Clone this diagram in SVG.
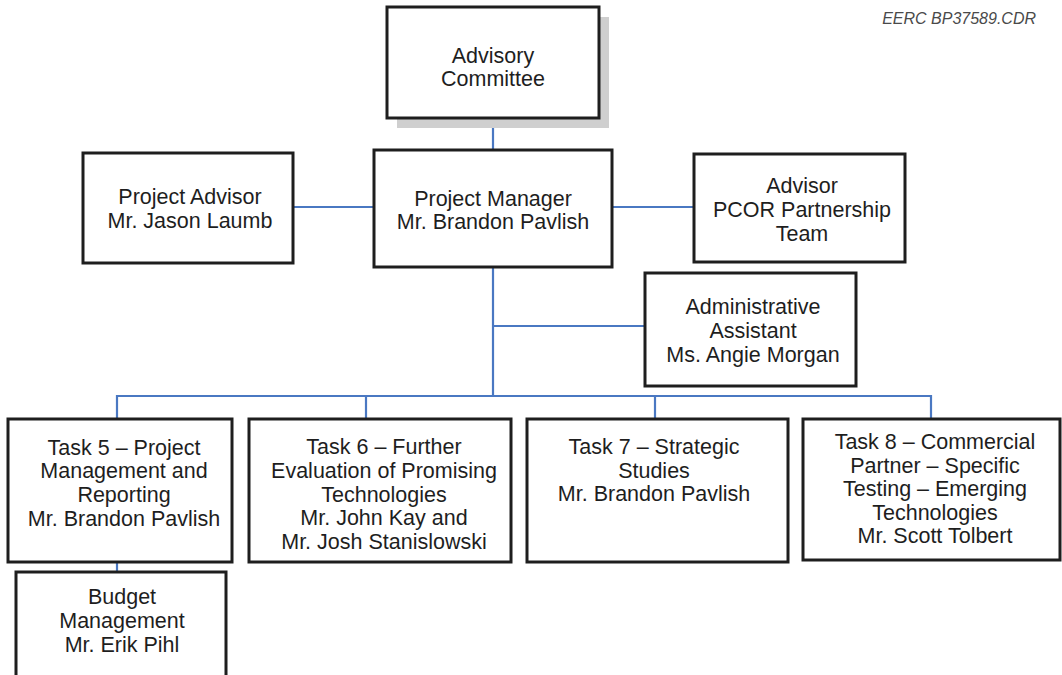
<svg xmlns="http://www.w3.org/2000/svg" width="1062" height="675" viewBox="0 0 1062 675">
<style>
.box{fill:#fff;stroke:#1e1e1e;stroke-width:3}
.shadow{fill:#cfcfcf}
.t{font-family:"Liberation Sans",Arial,sans-serif;font-size:21.5px;fill:#1e1e1e;text-anchor:middle}
.conn{fill:none;stroke:#4a78c2;stroke-width:2.2}
.note{font-family:"Liberation Sans",Arial,sans-serif;font-size:16px;font-style:italic;fill:#4a4a4a;text-anchor:end}
</style>
<rect width="1062" height="675" fill="#fff"/>
<text class="note" x="1036" y="24">EERC BP37589.CDR</text>
<g id="connectors">
<line class="conn" x1="493" y1="118" x2="493" y2="150"/>
<line class="conn" x1="293" y1="207" x2="374" y2="207"/>
<line class="conn" x1="612" y1="207" x2="694" y2="207"/>
<line class="conn" x1="493" y1="267" x2="493" y2="396"/>
<line class="conn" x1="493" y1="326" x2="645" y2="326"/>
<polyline class="conn" points="117,419 117,396 931,396 931,419"/>
<line class="conn" x1="366" y1="396" x2="366" y2="419"/>
<line class="conn" x1="655" y1="396" x2="655" y2="419"/>
<line class="conn" x1="117" y1="562" x2="117" y2="572"/>
</g>
<g id="advisory-committee">
<rect class="shadow" x="397" y="17" width="212" height="111"/>
<rect class="box" x="387" y="7" width="212" height="111"/>
<text class="t" x="493" y="63">Advisory</text>
<text class="t" x="493" y="86">Committee</text>
</g>
<g id="project-advisor">
<rect class="box" x="83" y="153" width="210" height="110"/>
<text class="t" x="190" y="204">Project Advisor</text>
<text class="t" x="190" y="228">Mr. Jason Laumb</text>
</g>
<g id="project-manager">
<rect class="box" x="374" y="150" width="238" height="117"/>
<text class="t" x="493" y="206">Project Manager</text>
<text class="t" x="493" y="229">Mr. Brandon Pavlish</text>
</g>
<g id="advisor-pcor">
<rect class="box" x="694" y="154" width="211" height="108"/>
<text class="t" x="802" y="193">Advisor</text>
<text class="t" x="802" y="217">PCOR Partnership</text>
<text class="t" x="802" y="241">Team</text>
</g>
<g id="admin-assistant">
<rect class="box" x="645" y="273" width="211" height="113"/>
<text class="t" x="753" y="314">Administrative</text>
<text class="t" x="753" y="338">Assistant</text>
<text class="t" x="753" y="362">Ms. Angie Morgan</text>
</g>
<g id="task5">
<rect class="box" x="8" y="419" width="224" height="143"/>
<text class="t" x="124" y="455">Task 5 – Project</text>
<text class="t" x="124" y="478">Management and</text>
<text class="t" x="124" y="502">Reporting</text>
<text class="t" x="124" y="526">Mr. Brandon Pavlish</text>
</g>
<g id="task6">
<rect class="box" x="249" y="419" width="262" height="143"/>
<text class="t" x="384" y="454">Task 6 – Further</text>
<text class="t" x="384" y="478">Evaluation of Promising</text>
<text class="t" x="384" y="502">Technologies</text>
<text class="t" x="384" y="525">Mr. John Kay and</text>
<text class="t" x="384" y="549">Mr. Josh Stanislowski</text>
</g>
<g id="task7">
<rect class="box" x="527" y="419" width="261" height="143"/>
<text class="t" x="654" y="454">Task 7 – Strategic</text>
<text class="t" x="654" y="478">Studies</text>
<text class="t" x="654" y="501">Mr. Brandon Pavlish</text>
</g>
<g id="task8">
<rect class="box" x="803" y="419" width="257" height="141"/>
<text class="t" x="935" y="449">Task 8 – Commercial</text>
<text class="t" x="935" y="473">Partner – Specific</text>
<text class="t" x="935" y="496">Testing – Emerging</text>
<text class="t" x="935" y="520">Technologies</text>
<text class="t" x="935" y="543">Mr. Scott Tolbert</text>
</g>
<g id="budget">
<rect class="box" x="16" y="572" width="210" height="112"/>
<text class="t" x="122" y="604">Budget</text>
<text class="t" x="122" y="628">Management</text>
<text class="t" x="122" y="652">Mr. Erik Pihl</text>
</g>
</svg>
